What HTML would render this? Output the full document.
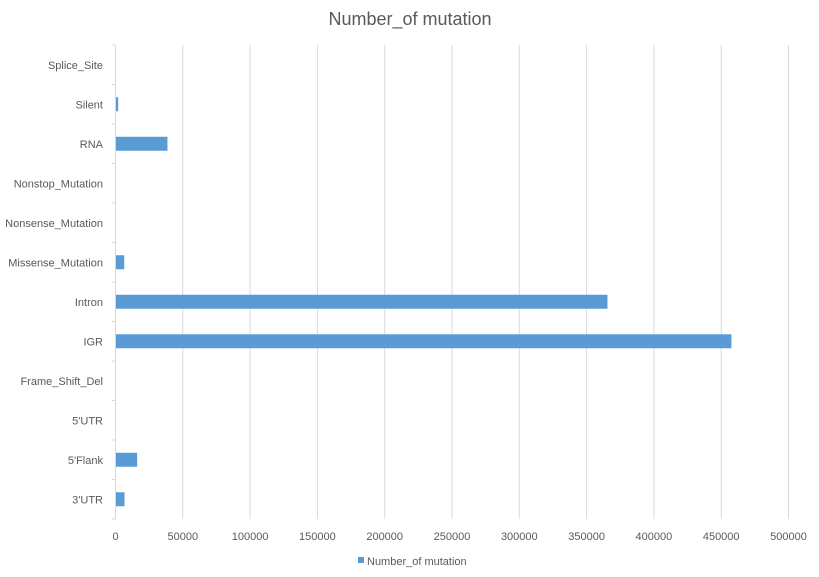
<!DOCTYPE html>
<html><head><meta charset="utf-8"><style>
body{margin:0;background:#fff;font-family:"Liberation Sans",sans-serif;}
svg text{font-family:"Liberation Sans",sans-serif;fill:#595959;}
</style></head><body>
<svg width="819" height="572">
<rect width="819" height="572" fill="#fff"/>
<text x="410" y="25" font-size="18" text-anchor="middle">Number_of mutation</text>
<g id="grid"></g><g id="bars"></g><g id="labels"></g>
<rect x="358" y="557" width="6" height="6" fill="#5b9bd5"/>
<text x="367" y="565" font-size="11">Number_of mutation</text>
</svg>
<script>
const categories=["3'UTR","5'Flank","5'UTR","Frame_Shift_Del","IGR","Intron","Missense_Mutation","Nonsense_Mutation","Nonstop_Mutation","RNA","Silent","Splice_Site"];
const values=[6700,16100,150,200,457600,365500,6500,300,50,38600,2000,50];
const ticks=[0,50000,100000,150000,200000,250000,300000,350000,400000,450000,500000];
const NS="http://www.w3.org/2000/svg";
const x0=115.5,pxPer=67.3/50000,yTop=45,yBottom=519;
const band=(yBottom-yTop)/categories.length;
const X=v=>x0+v*pxPer;
const Y=i=>yBottom-(i+0.5)*band;
function mk(t,a,p){const e=document.createElementNS(NS,t);for(const k in a)e.setAttribute(k,a[k]);p.appendChild(e);return e;}
const g=document.getElementById('grid'),b=document.getElementById('bars'),l=document.getElementById('labels');
ticks.forEach(t=>{
 if(t>0){const ln=mk('line',{x1:X(t),x2:X(t),y1:yTop,y2:yBottom,stroke:'#d9d9d9'},g);
 
 }
 const tx=mk('text',{x:X(t),y:540,'font-size':11,'text-anchor':'middle'},l);tx.textContent=t;
 
 
});
const ax=mk('line',{x1:x0,x2:x0,y1:yTop,y2:yBottom,stroke:'#d9d9d9'},g);


for(let i=0;i<=categories.length;i++){const tk=mk('line',{x1:x0-4,x2:x0,y1:yBottom-i*band,y2:yBottom-i*band,stroke:'#d9d9d9'},g);
 
 }
categories.forEach((c,i)=>{
 const r=mk('rect',{x:x0+0.5,y:Y(i)-7,width:Math.max(0,X(values[i])-x0-0.5),height:14,fill:'#5b9bd5'},b);
 
 
 const t=mk('text',{x:103,y:Y(i)+4,'font-size':11,'text-anchor':'end'},l);t.textContent=c;
 
 
});
</script>
</body></html>
